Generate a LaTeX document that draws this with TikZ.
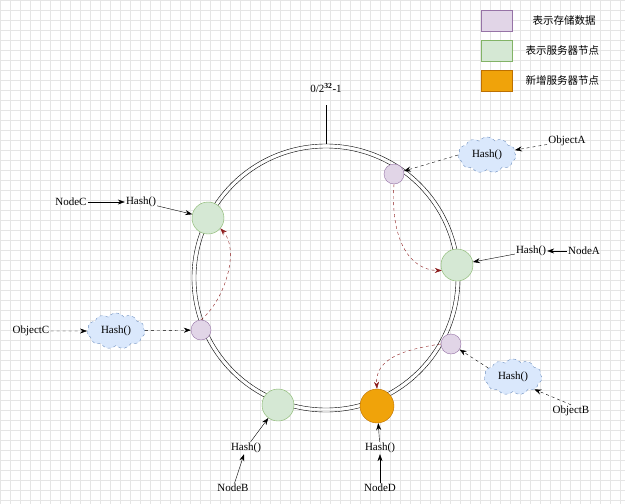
\documentclass[tikz,border=0pt]{standalone}
\usepackage{fontspec}
\setmainfont{Liberation Serif}
\newfontfamily\cjk{Noto Sans CJK SC}
\usetikzlibrary{shapes.symbols,arrows.meta}
\definecolor{pfill}{HTML}{E1D5E7}\definecolor{pdraw}{HTML}{9673A6}
\definecolor{gfill}{HTML}{D5E8D4}\definecolor{gdraw}{HTML}{82B366}
\definecolor{ofill}{HTML}{F0A30A}\definecolor{odraw}{HTML}{BD7000}
\definecolor{cfill}{HTML}{DAE8FC}\definecolor{cdraw}{HTML}{6C8EBF}
\definecolor{redd}{HTML}{8B1A1A}
\tikzset{
 dat/.style={circle,fill=pfill,draw=pdraw,minimum size=20pt,inner sep=0},
 srv/.style={circle,fill=gfill,draw=gdraw,minimum size=32pt,inner sep=0},
 nsrv/.style={circle,fill=ofill,draw=odraw,minimum size=34pt,inner sep=0},
 cl/.style={cloud,cloud puffs=11,cloud puff arc=110,aspect=1.6,fill=cfill,draw=cdraw,dashed,minimum width=58pt,minimum height=36pt,inner sep=0,font=\fontsize{11}{12}\selectfont},
 lbl/.style={font=\fontsize{11}{12}\selectfont,inner sep=1pt},
 arr/.style={-{Stealth[length=7pt,width=5pt]},black},
 darr/.style={arr,dashed},
 rarr/.style={-{Stealth[length=7pt,width=5pt]},redd,dashed},
 leg/.style={minimum width=31pt,minimum height=21pt,inner sep=0},
 legt/.style={font=\cjk\fontsize{10.5}{12}\selectfont,anchor=west}
}
\begin{document}
\begin{tikzpicture}[x=1pt,y=-1pt]
\useasboundingbox (0,0) rectangle (625,504);
\draw[black!10,step=10pt] (0,0) grid (625,504);
\draw (326,278) circle (134);
\draw (326,278) circle (130);
\coordinate (top) at (326,144);
\node[lbl] (zero) at (326,88) {0/2$^{\mathbf{32}}$-1};
\draw (top) -- (326,105);
% legend
\node[leg,fill=pfill,draw=pdraw] (l1) at (496.5,20.5) {};
\node[leg,fill=gfill,draw=gdraw] (l2) at (496.5,50.5) {};
\node[leg,fill=ofill,draw=odraw] (l3) at (496.5,80.5) {};
\node[legt] (t1) at (529,20.5) {表示存储数据};
\node[legt] (t2) at (522,50.5) {表示服务器节点};
\node[legt] (t3) at (522,80.5) {新增服务器节点};
% nodes
\node[dat] (pa) at (394,174) {};
\node[dat] (pc) at (201,330) {};
\node[dat] (pb) at (451,344) {};
\node[srv] (gc) at (208,218) {};
\node[srv] (ga) at (457,265) {};
\node[srv] (gb) at (278,405) {};
\node[nsrv] (od) at (377,406) {};
% objects
\node[cl] (ca) at (487,155) {Hash()};
\node[lbl] (oa) at (567,141) {ObjectA};
\draw[darr] (oa) -- (ca.10);
\draw[darr] (ca.west) -- (pa);
\node[cl] (cc) at (116,331) {Hash()};
\node[lbl] (oc) at (31,331) {ObjectC};
\draw[darr] (oc) -- (cc);
\draw[darr] (cc) -- (pc);
\node[cl] (cb) at (513,377) {Hash()};
\node[lbl] (ob) at (571,411) {ObjectB};
\draw[darr] (ob.north) -- (cb.-30);
\draw[darr] (cb.160) -- (pb);
% servers
\node[lbl] (nc) at (71,202) {NodeC};
\node[lbl] (hc) at (141,202) {Hash()};
\draw[arr] (nc) -- (hc);
\draw[arr] (hc) -- (gc);
\node[lbl] (na) at (584,251) {NodeA};
\node[lbl] (ha) at (531,251) {Hash()};
\draw[arr] (na) -- (ha);
\draw[arr] (ha) -- (ga);
\node[lbl] (nb) at (233,488) {NodeB};
\node[lbl] (hb) at (246,448) {Hash()};
\draw[arr] (nb) -- (hb);
\draw[arr] (hb) -- (gb);
\node[lbl] (nd) at (380,488) {NodeD};
\node[lbl] (hd) at (380,448) {Hash()};
\draw[arr] (nd) -- (hd);
\draw[arr] (hd) -- (od);
% moves
\draw[rarr] (pa.south) .. controls (390,240) and (410,270) .. (ga.200);
\draw[rarr] (pc.north) .. controls (225,300) and (240,250) .. (gc.-40);
\draw[rarr] (pb.west) .. controls (400,350) and (375,360) .. (od.north);
\end{tikzpicture}
\end{document}
